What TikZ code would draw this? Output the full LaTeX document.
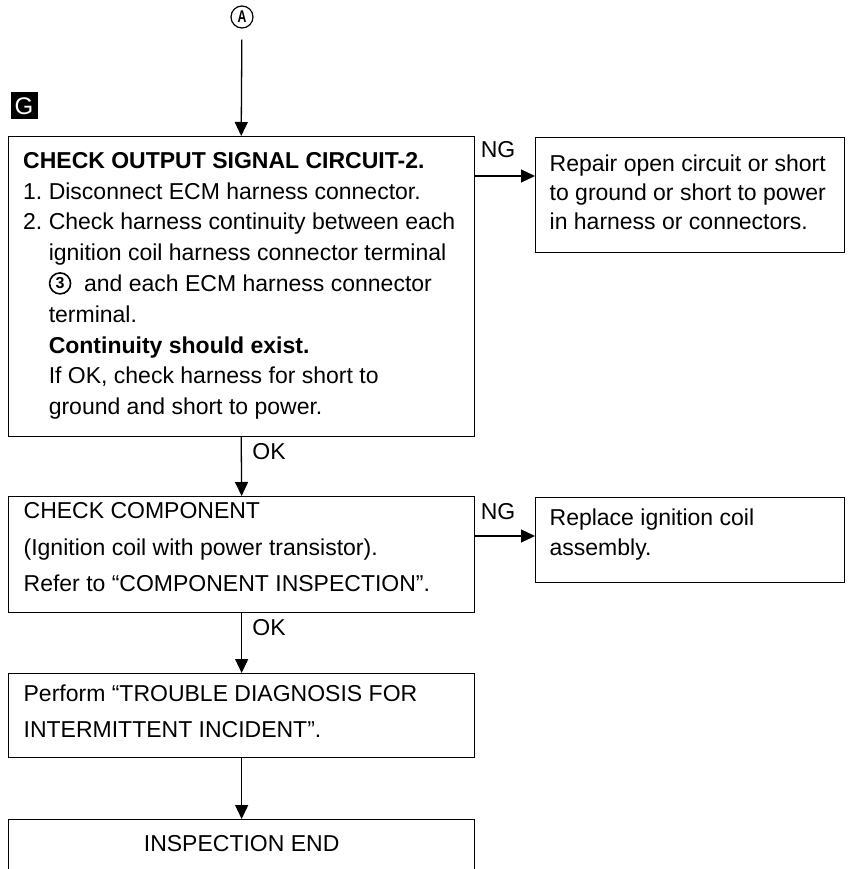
\documentclass[tikz,border=0pt]{standalone}
\usepackage{fontspec}
\setmainfont{Liberation Sans}
\usetikzlibrary{arrows.meta, positioning, calc}
\newcommand{\subind}{\hphantom{2.\ }}
\newcommand{\cthree}{\tikz[baseline={([yshift=-8pt]c.center)}]
  \node[circle, draw, line width=1.6pt, minimum size=21pt, inner sep=0pt,
        font=\bfseries\fontsize{16}{16}\selectfont] (c) {3};}

\begin{document}
\begin{tikzpicture}[
  x=1pt, y=-1pt,
  line width=1.3pt,
  font=\fontsize{23}{30.8}\selectfont,
  box/.style ={draw, anchor=north west, minimum width=466pt, text width=436pt,
               inner xsep=15pt, inner ysep=0pt, align=left,
               execute at begin node={\frenchspacing\spaceskip=0pt\xspaceskip=0pt}},
  rbox/.style={box, minimum width=309pt, text width=281pt, inner xsep=14pt},
  lbl/.style={inner sep=0pt},
  arr/.style={-{Triangle[length=14pt, width=13pt]}}
]
\useasboundingbox (0,0) rectangle (848,869);

%% ---- Start marks ----
\node[circle, draw, line width=1.2pt, minimum size=22pt, inner sep=0pt] (A) at (242,17)
  {\fontsize{17}{17}\selectfont\scalebox{0.72}[1]{\textbf{A}}};
\node[fill=black, text=white, minimum size=27pt, inner sep=0pt,
      font=\fontsize{24}{24}\selectfont] (G) at (24,106) {G};

%% ---- Left column ----
\node[box, text height=32pt, text depth=268pt] (B1) at (8,136)
  {\textbf{CHECK OUTPUT SIGNAL CIRCUIT-2.}\\
   1. Disconnect ECM harness connector.\\
   2. Check harness continuity between each\\
   \subind ignition coil harness connector terminal\\
   \subind\cthree\ \ and each ECM harness connector\\
   \subind terminal.\\
   \subind\textbf{Continuity should exist.}\\
   \subind If OK, check harness for short to\\
   \subind ground and short to power.};
\node[box, text height=22pt, text depth=94pt, font=\fontsize{23}{36.5}\selectfont] (B2) at (8,496)
  {CHECK COMPONENT\\
   (Ignition coil with power transistor).\\
   Refer to “COMPONENT INSPECTION”.};
\node[box, text height=28pt, text depth=56pt, font=\fontsize{23}{36}\selectfont] (B3) at (8,673)
  {Perform “TROUBLE DIAGNOSIS FOR\\
   INTERMITTENT INCIDENT”.};
\node[box, align=center, text height=32pt, text depth=60pt] (B4) at (8,819)
  {\mbox{INSPECTION END}};

%% ---- Right column ----
\node[rbox, text height=34pt, text depth=81pt, font=\fontsize{23}{28.7}\selectfont] (R1) at (535,137)
  {Repair open circuit or short\\
   to ground or short to power\\
   in harness or connectors.};
\node[rbox, text height=28pt, text depth=57pt, font=\fontsize{23}{30}\selectfont] (R2) at (535,497)
  {Replace ignition coil\\
   assembly.};

%% ---- Connectors ----
\draw[arr, shorten <=11pt] (A) -- (B1.north);
\draw[arr] (B1.south) -- (B2.north);
\draw[arr] (B2.south) -- (B3.north);
\draw[arr] (B3.south) -- (B4.north);

\coordinate (ng1) at ($(B1.north east)+(0,40)$);
\coordinate (ng2) at ($(B2.north east)+(0,40)$);
\draw[arr] (ng1) -- (ng1 -| R1.west);
\draw[arr] (ng2) -- (ng2 -| R2.west);

\node[lbl] at (498,150) {NG};
\node[lbl] at (498,512) {NG};
\node[lbl] at (269,452) {OK};
\node[lbl] at (269,628) {OK};

\end{tikzpicture}
\end{document}
